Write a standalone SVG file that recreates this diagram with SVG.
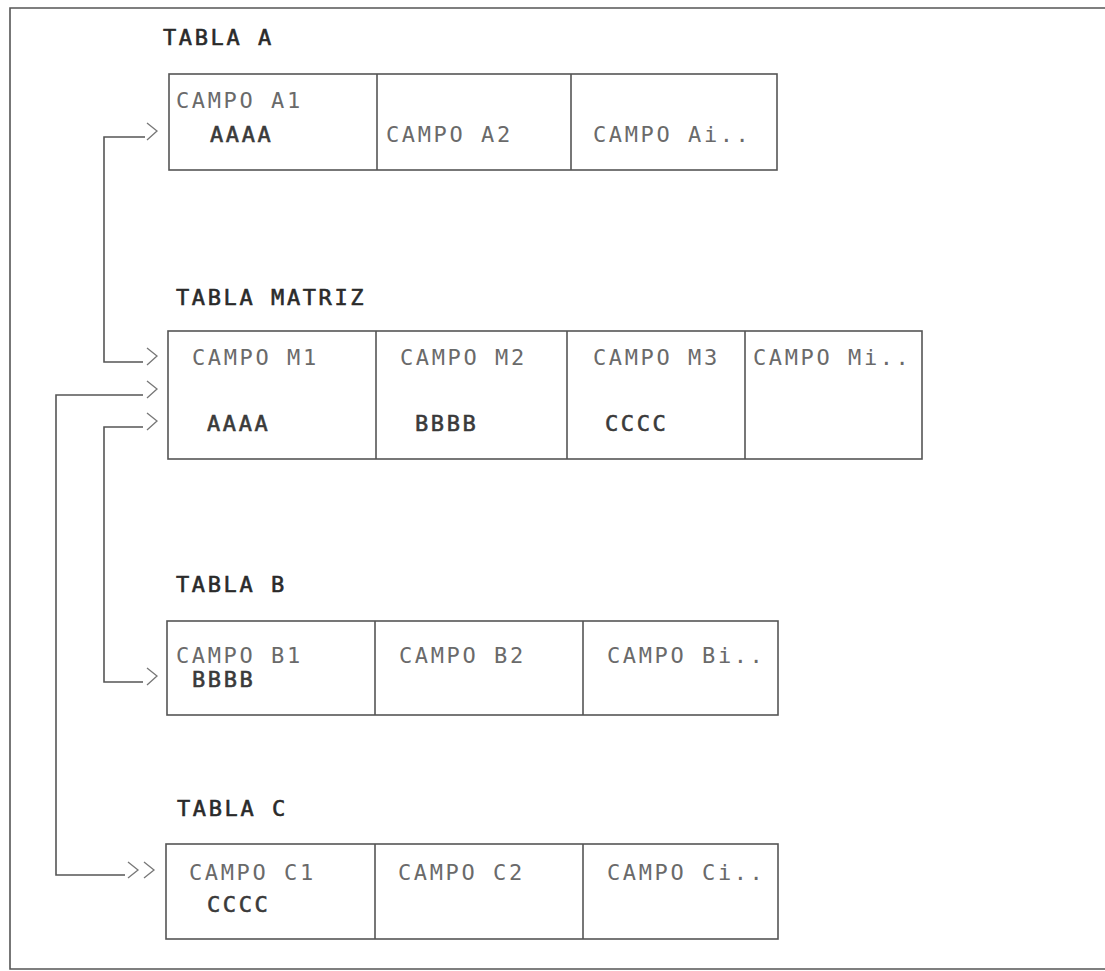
<svg xmlns="http://www.w3.org/2000/svg" width="1105" height="971" viewBox="0 0 1105 971">
<style>
.box{fill:none;stroke:#555;stroke-width:1.6}
.div{stroke:#555;stroke-width:1.6}
.f{font-family:"DejaVu Sans Mono","Liberation Mono",monospace;font-size:22px;letter-spacing:2.6px;fill:#6a6a6a}
.t{font-family:"DejaVu Sans Mono","Liberation Mono",monospace;font-size:22px;letter-spacing:2.6px;fill:#2a2a2a;stroke:#2a2a2a;stroke-width:0.6}
.d{font-family:"DejaVu Sans Mono","Liberation Mono",monospace;font-size:22px;letter-spacing:2.6px;fill:#3a3a3a;stroke:#3a3a3a;stroke-width:0.6}
.ln{fill:none;stroke:#555;stroke-width:1.6}
.ch{fill:none;stroke:#777;stroke-width:1.3}
</style>
<rect width="1105" height="971" fill="#fff"/>
<path class="ln" d="M1105 8 H10 V969 H1105"/>
<g id="tablaA">
<text class="t" x="163" y="45">TABLA A</text>
<rect class="box" x="169" y="74" width="608" height="96"/>
<line class="div" x1="377" y1="74" x2="377" y2="170"/>
<line class="div" x1="571" y1="74" x2="571" y2="170"/>
<text class="f" x="176" y="108">CAMPO A1</text>
<text class="d" x="210" y="142">AAAA</text>
<text class="f" x="386" y="142">CAMPO A2</text>
<text class="f" x="593" y="142">CAMPO Ai..</text>
</g>
<g id="tablaMatriz">
<text class="t" x="176" y="305">TABLA MATRIZ</text>
<rect class="box" x="168" y="331" width="754" height="128"/>
<line class="div" x1="376" y1="331" x2="376" y2="459"/>
<line class="div" x1="567" y1="331" x2="567" y2="459"/>
<line class="div" x1="745" y1="331" x2="745" y2="459"/>
<text class="f" x="192" y="365">CAMPO M1</text>
<text class="f" x="400" y="365">CAMPO M2</text>
<text class="f" x="593" y="365">CAMPO M3</text>
<text class="f" x="753" y="365">CAMPO Mi..</text>
<text class="d" x="207" y="431">AAAA</text>
<text class="d" x="415" y="431">BBBB</text>
<text class="d" x="605" y="431">CCCC</text>
</g>
<g id="tablaB">
<text class="t" x="176" y="592">TABLA B</text>
<rect class="box" x="167" y="621" width="611" height="94"/>
<line class="div" x1="375" y1="621" x2="375" y2="715"/>
<line class="div" x1="583" y1="621" x2="583" y2="715"/>
<text class="f" x="176" y="663">CAMPO B1</text>
<text class="d" x="192" y="687">BBBB</text>
<text class="f" x="399" y="663">CAMPO B2</text>
<text class="f" x="607" y="663">CAMPO Bi..</text>
</g>
<g id="tablaC">
<text class="t" x="177" y="816">TABLA C</text>
<rect class="box" x="166" y="844" width="612" height="95"/>
<line class="div" x1="375" y1="844" x2="375" y2="939"/>
<line class="div" x1="583" y1="844" x2="583" y2="939"/>
<text class="f" x="189" y="880">CAMPO C1</text>
<text class="d" x="207" y="912">CCCC</text>
<text class="f" x="398" y="880">CAMPO C2</text>
<text class="f" x="607" y="880">CAMPO Ci..</text>
</g>
<g id="connectors">
<path class="ln" d="M145 137 H104 V362 H143"/>
<path class="ch" d="M147 123 L157 131 L147 140"/>
<path class="ch" d="M147 348 L157 356 L147 365"/>
<path class="ln" d="M143 395 H56 V875 H125"/>
<path class="ch" d="M147 381 L157 389 L147 398"/>
<path class="ch" d="M128 862 L138 870 L128 878"/>
<path class="ch" d="M144 862 L154 870 L144 878"/>
<path class="ln" d="M143 427 H104 V682 H143"/>
<path class="ch" d="M147 413 L157 421 L147 430"/>
<path class="ch" d="M147 668 L157 676 L147 685"/>
</g>
</svg>
